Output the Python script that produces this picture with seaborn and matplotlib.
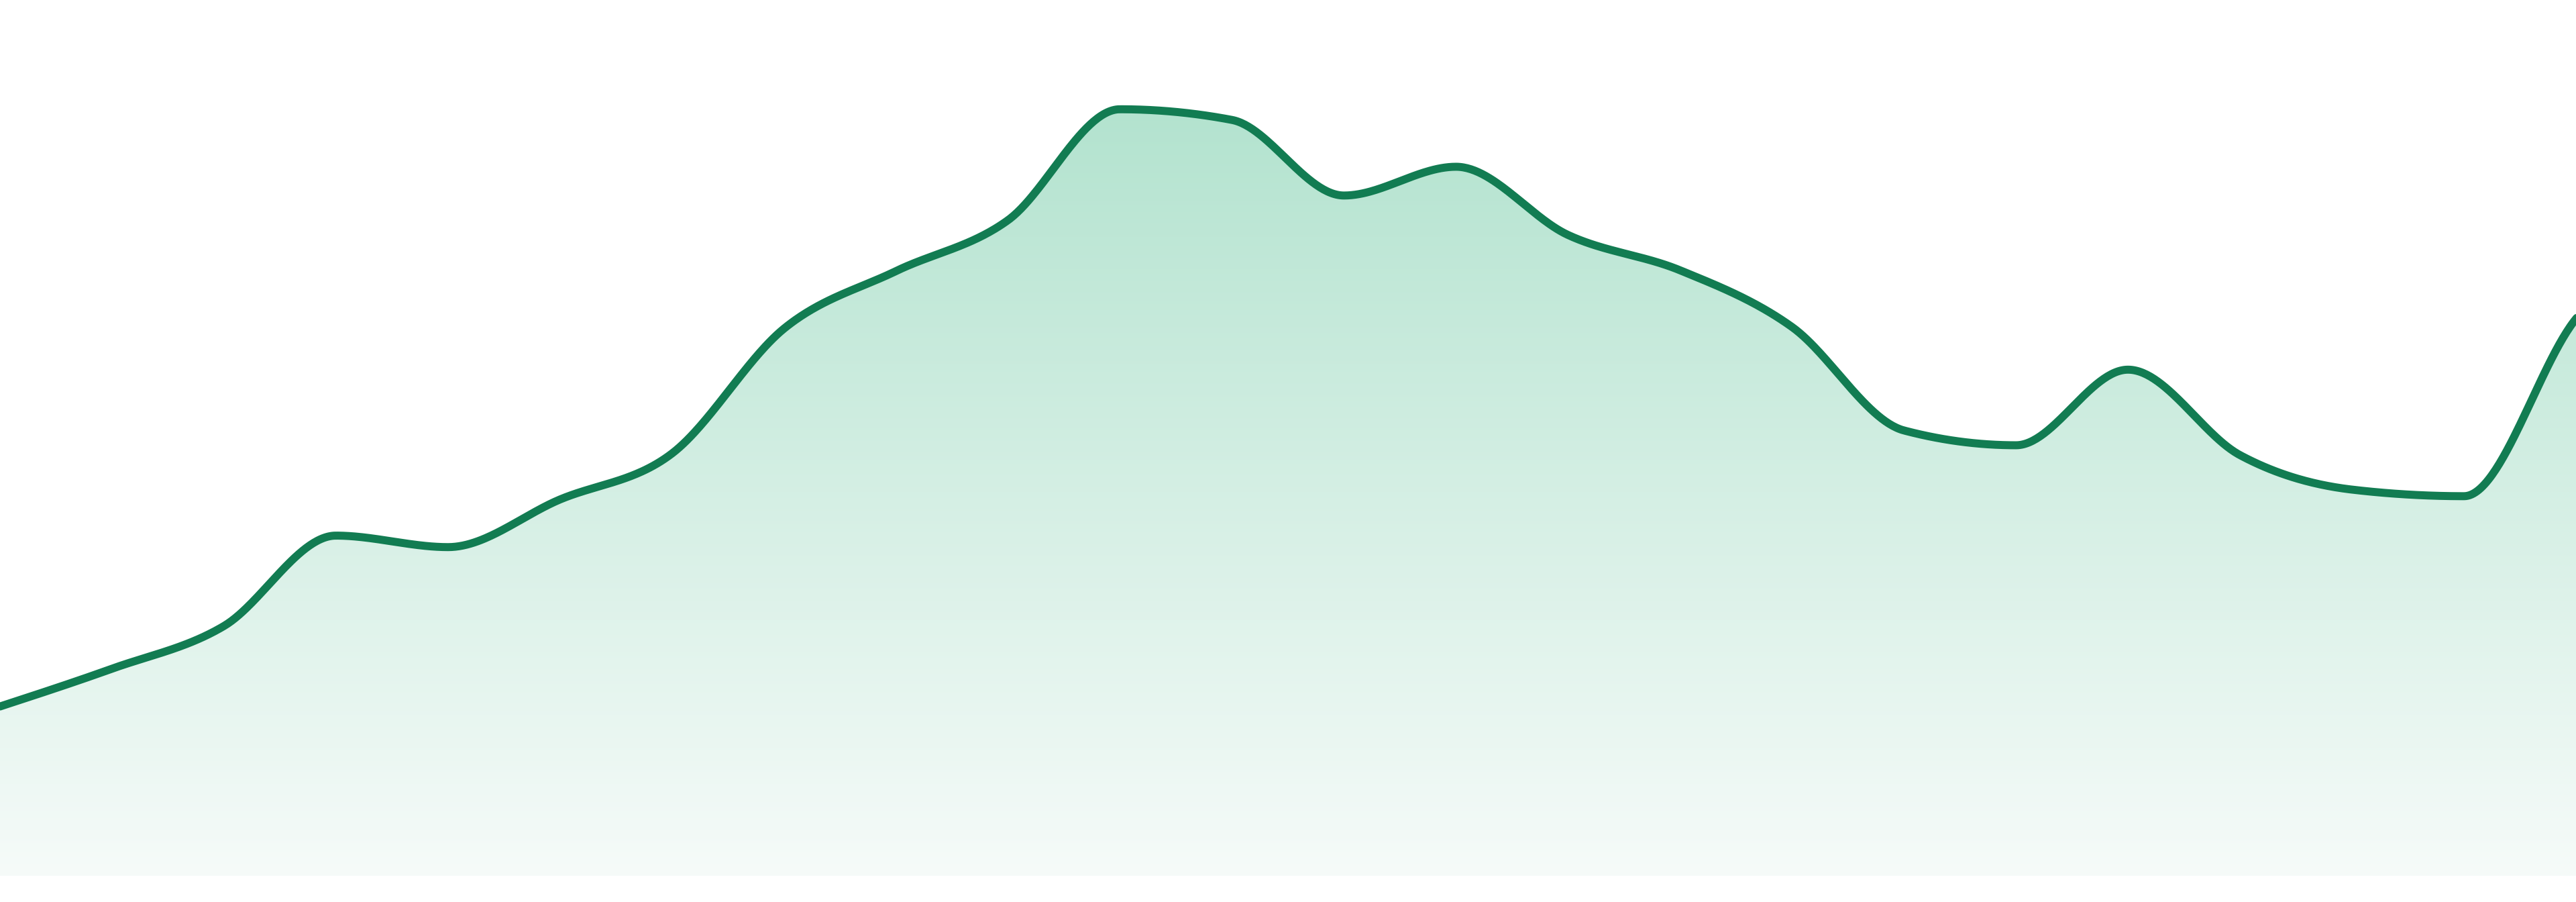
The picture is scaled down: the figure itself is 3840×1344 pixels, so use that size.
import numpy as np
import pandas as pd
import matplotlib.pyplot as plt
import seaborn as sns
from matplotlib.colors import to_rgb

# Values (height above the baseline, one point per step).
# The last point sits just past the right edge, the curve is cut there.
steps = list(range(25))
values = [103, 126, 152, 207, 200, 229, 257, 333, 368, 399, 466.5, 460,
          414, 431.5, 390, 368.5, 334, 271, 262, 308, 256, 235, 231, 339, 399]
visible_steps = (0, 23)

line_color = '#127c52'
fill_top = '#b3e3cf'
fill_bottom = '#f6fbf9'


# monotone cubic curve (same idea as d3 curveMonotoneX)
def monotone_curve(x, y, per_seg=60):
    x = np.asarray(x, float)
    y = np.asarray(y, float)
    h = np.diff(x)
    s = np.diff(y) / h
    t = np.zeros_like(y)
    for i in range(1, len(y) - 1):
        s0, s1 = s[i - 1], s[i]
        p = (s0 * h[i] + s1 * h[i - 1]) / (h[i - 1] + h[i])
        t[i] = (np.sign(s0) + np.sign(s1)) * min(abs(s0), abs(s1), 0.5 * abs(p))
    t[0] = (3 * s[0] - t[1]) / 2
    t[-1] = (3 * s[-1] - t[-2]) / 2
    xs, ys = [], []
    for i in range(len(y) - 1):
        u = np.linspace(0, 1, per_seg, endpoint=False)
        h00 = 2 * u**3 - 3 * u**2 + 1
        h10 = u**3 - 2 * u**2 + u
        h01 = -2 * u**3 + 3 * u**2
        h11 = u**3 - u**2
        xs.append(x[i] + u * h[i])
        ys.append(h00 * y[i] + h10 * h[i] * t[i] + h01 * y[i + 1] + h11 * h[i] * t[i + 1])
    xs.append([x[-1]])
    ys.append([y[-1]])
    return np.concatenate(xs), np.concatenate(ys)


cx, cy = monotone_curve(steps, values)
curve = pd.DataFrame({'step': cx, 'value': cy})

sns.set_style('white')
fig = plt.figure(figsize=(38.4, 13.44), dpi=100)
ax = fig.add_axes([0, 0, 1, 1])

# gradient fill under the curve: vertical gradient clipped to the area
poly = ax.fill_between(curve['step'], 0, curve['value'], color='none', lw=0)
top = max(values[visible_steps[0]:visible_steps[1] + 1])
c0 = np.array(to_rgb(fill_top))
c1 = np.array(to_rgb(fill_bottom))
frac = np.linspace(0, 1, 512)[:, None]
grad = (c0 * (1 - frac) + c1 * frac)[:, None, :]
img = ax.imshow(grad, extent=[steps[0], steps[-1], 0, top], origin='upper',
                aspect='auto', interpolation='bicubic', zorder=1)
img.set_clip_path(poly.get_paths()[0], transform=ax.transData)

sns.lineplot(data=curve, x='step', y='value', ax=ax, color=line_color,
             linewidth=8.6, sort=False, zorder=3)
ax.lines[-1].set_solid_joinstyle('round')

ax.set_xlim(*visible_steps)
ax.set_ylim(-16, 533)
ax.set_axis_off()

fig.savefig('out.png', dpi=100, facecolor='white')
